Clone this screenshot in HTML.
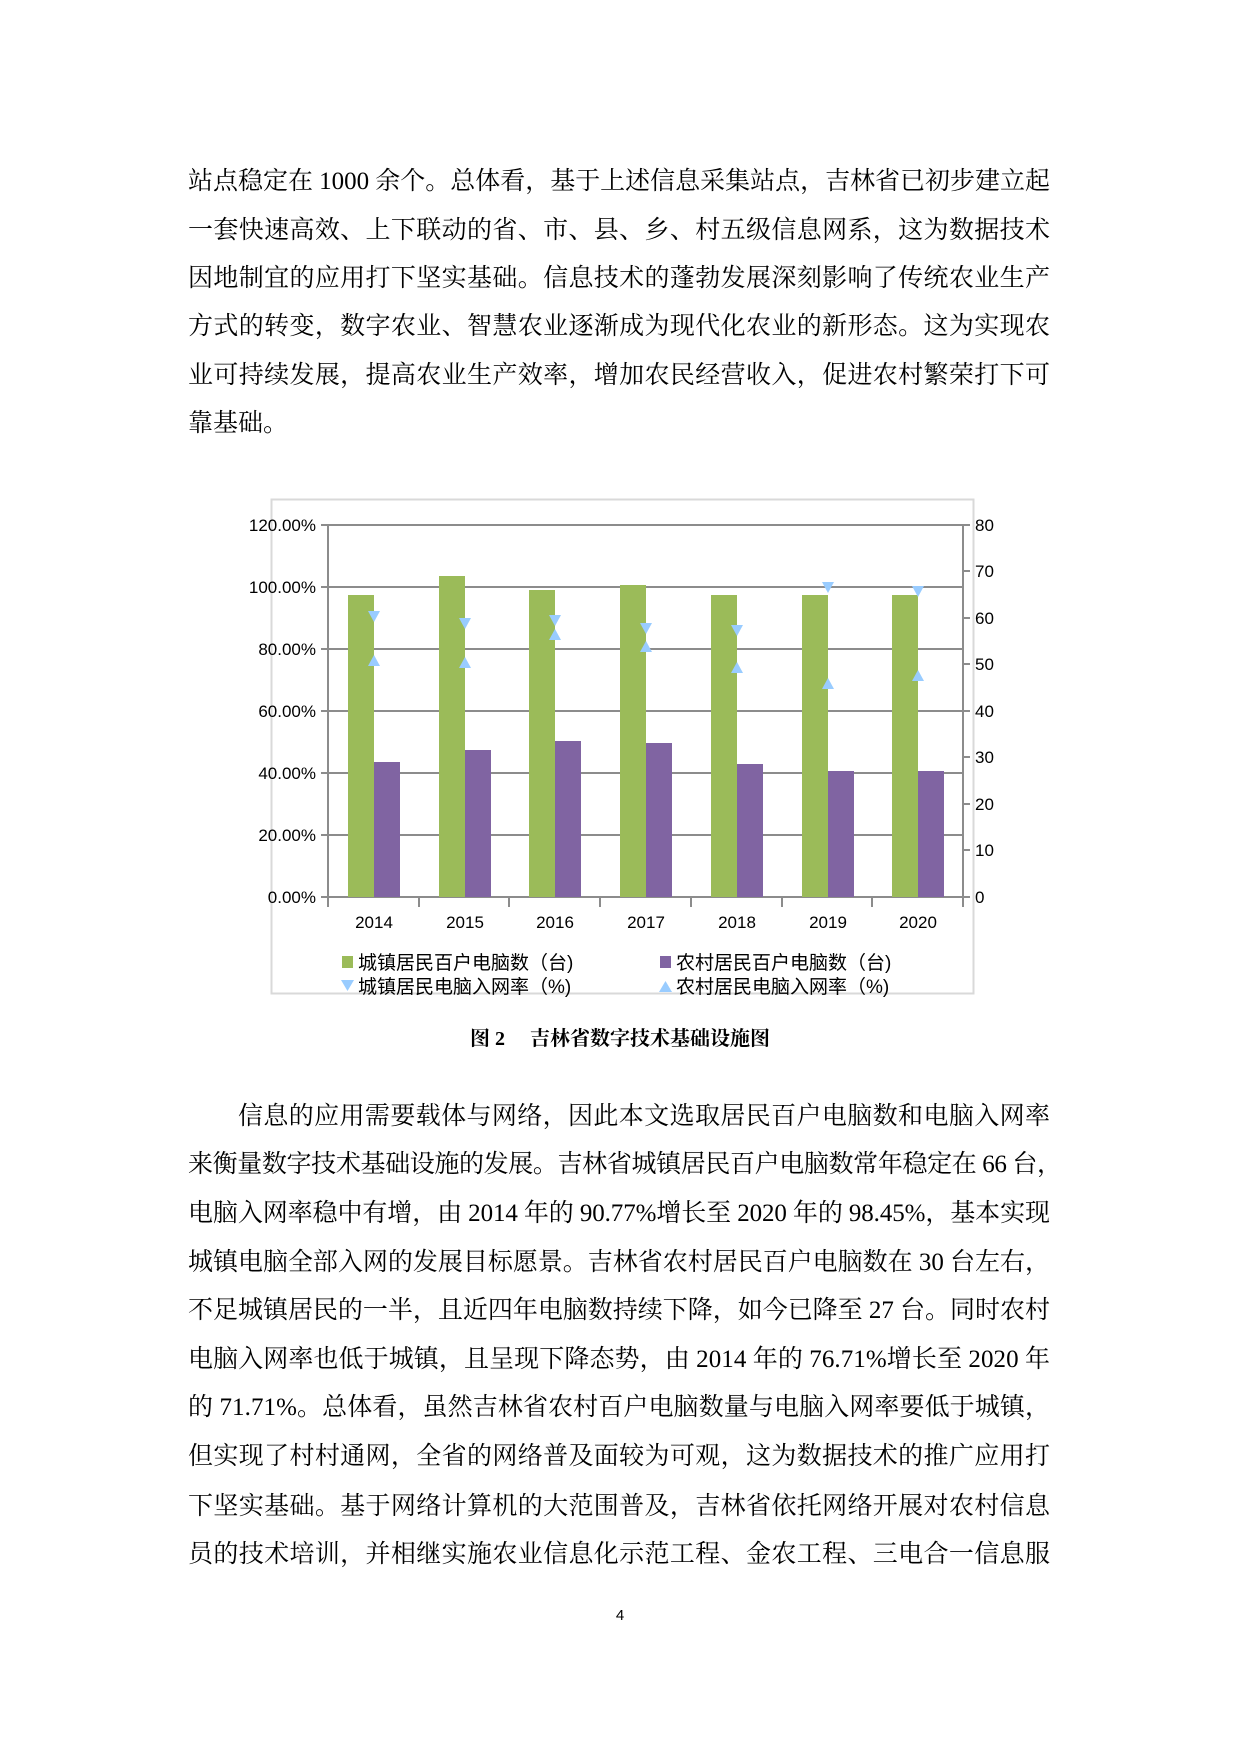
<!DOCTYPE html>
<html><head><meta charset="utf-8"><style>
html,body{margin:0;padding:0;background:#fff;}
svg{display:block;}
.t{font-family:"Liberation Serif","Noto Serif CJK SC",serif;font-size:25px;fill:#000;}
.a{font-family:"Liberation Sans","Noto Sans CJK SC",sans-serif;font-size:17px;fill:#000;}
.l{font-family:"Liberation Sans","Noto Sans CJK SC",sans-serif;font-size:19px;fill:#000;}
</style></head><body>
<svg width="1240" height="1754" viewBox="0 0 1240 1754" xmlns="http://www.w3.org/2000/svg">
<g class="t">
<text x="188" y="189" textLength="862" lengthAdjust="spacing">站点稳定在 1000 余个。总体看，基于上述信息采集站点，吉林省已初步建立起</text>
<text x="188" y="238" textLength="862" lengthAdjust="spacing">一套快速高效、上下联动的省、市、县、乡、村五级信息网系，这为数据技术</text>
<text x="188" y="286" textLength="862" lengthAdjust="spacing">因地制宜的应用打下坚实基础。信息技术的蓬勃发展深刻影响了传统农业生产</text>
<text x="188" y="334" textLength="862" lengthAdjust="spacing">方式的转变，数字农业、智慧农业逐渐成为现代化农业的新形态。这为实现农</text>
<text x="188" y="383" textLength="862" lengthAdjust="spacing">业可持续发展，提高农业生产效率，增加农民经营收入，促进农村繁荣打下可</text>
<text x="188" y="431">靠基础。</text>

<text x="238" y="1124" textLength="812" lengthAdjust="spacing">信息的应用需要载体与网络，因此本文选取居民百户电脑数和电脑入网率</text>
<text x="188" y="1172" textLength="874" lengthAdjust="spacing">来衡量数字技术基础设施的发展。吉林省城镇居民百户电脑数常年稳定在 66 台，</text>
<text x="188" y="1221" textLength="862" lengthAdjust="spacing">电脑入网率稳中有增，由 2014 年的 90.77%增长至 2020 年的 98.45%，基本实现</text>
<text x="188" y="1270" textLength="862" lengthAdjust="spacing">城镇电脑全部入网的发展目标愿景。吉林省农村居民百户电脑数在 30 台左右，</text>
<text x="188" y="1318" textLength="862" lengthAdjust="spacing">不足城镇居民的一半，且近四年电脑数持续下降，如今已降至 27 台。同时农村</text>
<text x="188" y="1367" textLength="862" lengthAdjust="spacing">电脑入网率也低于城镇，且呈现下降态势，由 2014 年的 76.71%增长至 2020 年</text>
<text x="188" y="1415" textLength="862" lengthAdjust="spacing">的 71.71%。总体看，虽然吉林省农村百户电脑数量与电脑入网率要低于城镇，</text>
<text x="188" y="1464" textLength="862" lengthAdjust="spacing">但实现了村村通网，全省的网络普及面较为可观，这为数据技术的推广应用打</text>
<text x="188" y="1514" textLength="862" lengthAdjust="spacing">下坚实基础。基于网络计算机的大范围普及，吉林省依托网络开展对农村信息</text>
<text x="188" y="1562" textLength="862" lengthAdjust="spacing">员的技术培训，并相继实施农业信息化示范工程、金农工程、三电合一信息服</text>
</g>
<text x="620" y="1620" text-anchor="middle" style="font-family:'Liberation Sans',sans-serif;font-size:15px">4</text>

<rect x="271.5" y="499.5" width="702" height="494" fill="#fff" stroke="#d9d9d9" stroke-width="2"/>
<g stroke="#8c8c8c" stroke-width="2">
<line x1="321" y1="525" x2="970" y2="525"/>
<line x1="321" y1="587" x2="963" y2="587"/>
<line x1="321" y1="649" x2="963" y2="649"/>
<line x1="321" y1="711" x2="963" y2="711"/>
<line x1="321" y1="773" x2="963" y2="773"/>
<line x1="321" y1="835" x2="963" y2="835"/>
<line x1="321" y1="897" x2="970" y2="897"/>
<line x1="328" y1="525" x2="328" y2="907"/>
<line x1="963" y1="525" x2="963" y2="907"/>
<line x1="419" y1="897" x2="419" y2="907"/>
<line x1="509" y1="897" x2="509" y2="907"/>
<line x1="600" y1="897" x2="600" y2="907"/>
<line x1="691" y1="897" x2="691" y2="907"/>
<line x1="782" y1="897" x2="782" y2="907"/>
<line x1="872" y1="897" x2="872" y2="907"/>
<line x1="963" y1="571" x2="970" y2="571"/>
<line x1="963" y1="618" x2="970" y2="618"/>
<line x1="963" y1="664" x2="970" y2="664"/>
<line x1="963" y1="711" x2="970" y2="711"/>
<line x1="963" y1="757" x2="970" y2="757"/>
<line x1="963" y1="804" x2="970" y2="804"/>
<line x1="963" y1="850" x2="970" y2="850"/>
</g>
<g fill="#9bbb59">
<rect x="348" y="595" width="26" height="302"/>
<rect x="439" y="576" width="26" height="321"/>
<rect x="529" y="590" width="26" height="307"/>
<rect x="620" y="585" width="26" height="312"/>
<rect x="711" y="595" width="26" height="302"/>
<rect x="802" y="595" width="26" height="302"/>
<rect x="892" y="595" width="26" height="302"/>
</g>
<g fill="#8064a2">
<rect x="374" y="762" width="26" height="135"/>
<rect x="465" y="750" width="26" height="147"/>
<rect x="555" y="741" width="26" height="156"/>
<rect x="646" y="743" width="26" height="154"/>
<rect x="737" y="764" width="26" height="133"/>
<rect x="828" y="771" width="26" height="126"/>
<rect x="918" y="771" width="26" height="126"/>
</g>
<g fill="#99ccff">
<path d="M368,611h12l-6,11z"/>
<path d="M459,618h12l-6,11z"/>
<path d="M549,615h12l-6,11z"/>
<path d="M640,623h12l-6,11z"/>
<path d="M731,625h12l-6,11z"/>
<path d="M822,582h12l-6,11z"/>
<path d="M912,586h12l-6,11z"/>
<path d="M368,666h12l-6,-11z"/>
<path d="M459,668h12l-6,-11z"/>
<path d="M549,640h12l-6,-11z"/>
<path d="M640,652h12l-6,-11z"/>
<path d="M731,673h12l-6,-11z"/>
<path d="M822,689h12l-6,-11z"/>
<path d="M912,681h12l-6,-11z"/>
</g>
<g class="a" text-anchor="end">
<text x="316" y="531">120.00%</text>
<text x="316" y="593">100.00%</text>
<text x="316" y="655">80.00%</text>
<text x="316" y="717">60.00%</text>
<text x="316" y="779">40.00%</text>
<text x="316" y="841">20.00%</text>
<text x="316" y="903">0.00%</text>
</g>
<g class="a">
<text x="975" y="531">80</text>
<text x="975" y="577">70</text>
<text x="975" y="624">60</text>
<text x="975" y="670">50</text>
<text x="975" y="717">40</text>
<text x="975" y="763">30</text>
<text x="975" y="810">20</text>
<text x="975" y="856">10</text>
<text x="975" y="903">0</text>
</g>
<g class="a" text-anchor="middle">
<text x="374" y="928">2014</text>
<text x="465" y="928">2015</text>
<text x="555" y="928">2016</text>
<text x="646" y="928">2017</text>
<text x="737" y="928">2018</text>
<text x="828" y="928">2019</text>
<text x="918" y="928">2020</text>
</g>
<rect x="342" y="956" width="11" height="12" fill="#9bbb59"/>
<rect x="660" y="956" width="11" height="12" fill="#8064a2"/>
<path d="M341,980h13l-6.5,11z" fill="#99ccff"/>
<path d="M659,992h13l-6.5,-11z" fill="#99ccff"/>
<g class="l">
<text x="358" y="969">城镇居民百户电脑数（台)</text>
<text x="676" y="969">农村居民百户电脑数（台)</text>
<text x="358" y="993">城镇居民电脑入网率（%)</text>
<text x="676" y="993">农村居民电脑入网率（%)</text>
</g>
<text x="620" y="1045" text-anchor="middle" style="font-family:'Liberation Serif','Noto Serif CJK SC',serif;font-size:20px;font-weight:bold">图 2　 吉林省数字技术基础设施图</text>
</svg>
</body></html>
